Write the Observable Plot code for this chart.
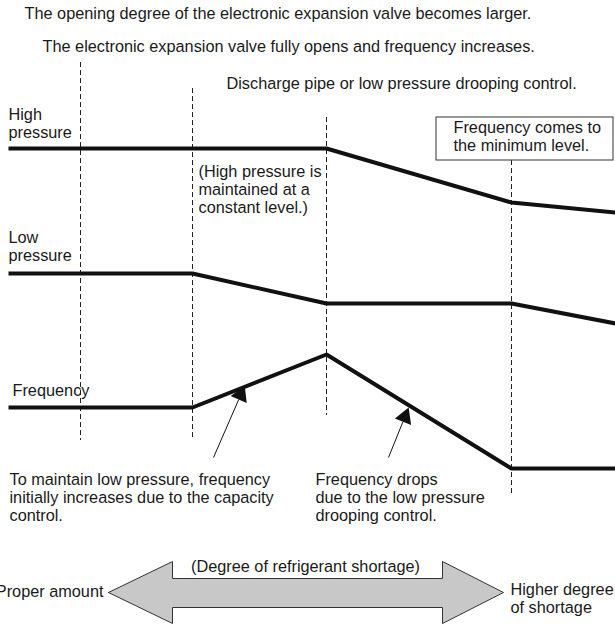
<!DOCTYPE html>
<html><head><meta charset="utf-8">
<script src="https://cdn.jsdelivr.net/npm/d3@7"></script>
<script src="https://cdn.jsdelivr.net/npm/@observablehq/plot@0.6"></script>
<style>body{margin:0;background:#fff;}</style>
</head><body><div id="chart"></div>
<script>
// ---- schematic data (x = progression of refrigerant shortage, y = level, measured downward) ----
const guideX      = [80, 192, 326, 511];
const guideTop    = [62, 88, 117, 160];
const guideBottom = [440, 438, 415, 496];

const highX = [8, 326, 511, 615];
const highY = [148, 148, 202, 212];
const lowX  = [8, 192, 326, 511, 615];
const lowY  = [273, 273, 303, 303, 323];
const freqX = [8, 192, 326, 511, 615];
const freqY = [407, 407, 354, 468, 468];

const labelText = [
  "The opening degree of the electronic expansion valve becomes larger.",
  "The electronic expansion valve fully opens and frequency increases.",
  "Discharge pipe or low pressure drooping control.",
  "High\npressure",
  "(High pressure is\nmaintained at a\nconstant level.)",
  "Low\npressure",
  "Frequency",
  "Frequency comes to\nthe minimum level.",
  "To maintain low pressure, frequency\ninitially increases due to the capacity\ncontrol.",
  "Frequency drops\ndue to the low pressure\ndrooping control.",
  "(Degree of refrigerant shortage)",
  "Proper amount",
  "Higher degree\nof shortage"
];
const labelX = [24, 42, 226, 8, 198, 8, 12, 453, 9, 315, 305, 103, 510];
const labelY = [14, 47, 84, 115, 172, 238, 391, 128, 480, 480, 567, 592, 590];
const labelAnchor = ["start","start","start","start","start","start","start","start","start","start","middle","end","start"];

const boxX1 = [436], boxX2 = [613], boxY1 = [117], boxY2 = [160];

// pointer arrows: tail -> tip
const ptrX1 = [213, 388], ptrY1 = [457, 457];
const ptrX2 = [243, 407], ptrY2 = [388, 410];

// big double arrow outline
const bigX = [108, 172, 172, 442, 442, 503, 442, 442, 172, 172, 108];
const bigY = [592, 561, 578, 578, 561, 592, 623, 607, 607, 623, 592];

// ---- build tables ----
const W = 615, H = 624, FS = 16.3, LH = 1.1;
const series = (xs, ys) => xs.map((x, i) => ({x, y: ys[i]}));
const guides = guideX.map((x, i) => ({x, y1: guideTop[i], y2: guideBottom[i]}));
const labels = labelText.map((t, i) => ({t, x: labelX[i], y: labelY[i] - 0.5 * FS, a: labelAnchor[i]}));
const ptrs = ptrX1.map((x1, i) => {
  const dx = ptrX2[i] - x1, dy = ptrY2[i] - ptrY1[i];
  const len = Math.hypot(dx, dy);
  const ang = Math.atan2(dx, -dy) * 180 / Math.PI;
  return {x1, y1: ptrY1[i], x2: ptrX2[i], y2: ptrY2[i],
          hx: ptrX2[i] - dx / len * 7, hy: ptrY2[i] - dy / len * 7,
          lx: ptrX2[i] - dx / len * 12, ly: ptrY2[i] - dy / len * 12, ang};
});
const boxes = boxX1.map((x1, i) => ({x1, x2: boxX2[i], y1: boxY1[i], y2: boxY2[i]}));
const big = series(bigX, bigY);

const lineOpts = {x: "x", y: "y", stroke: "#111", strokeWidth: 4, strokeLinejoin: "miter", strokeLinecap: "butt"};
const textOpts = (anchor) => ({filter: d => d.a === anchor, x: "x", y: "y", text: "t",
  textAnchor: anchor, lineAnchor: "top", lineHeight: LH, fill: "#1a1a1a", fontSize: FS});

const chart = Plot.plot({
  width: W, height: H, margin: 0,
  style: {fontFamily: "'Liberation Sans', Arial, sans-serif", fontSize: FS + "px", background: "#fff"},
  x: {domain: [0, W], axis: null},
  y: {domain: [0, H], reverse: true, axis: null},
  marks: [
    Plot.ruleX(guides, {x: "x", y1: "y1", y2: "y2", stroke: "#222", strokeWidth: 1, strokeDasharray: "5,3"}),
    Plot.rect(boxes, {x1: "x1", x2: "x2", y1: "y1", y2: "y2", fill: "#fff", stroke: "#333", strokeWidth: 1}),
    Plot.line(series(highX, highY), lineOpts),
    Plot.line(series(lowX, lowY), lineOpts),
    Plot.line(series(freqX, freqY), lineOpts),
    Plot.link(ptrs, {x1: "x1", y1: "y1", x2: "lx", y2: "ly", stroke: "#111", strokeWidth: 1}),
    Plot.dot(ptrs, {x: "hx", y: "hy", symbol: "triangle", r: 6.5, rotate: "ang", fill: "#111", stroke: "none"}),
    Plot.line(big, {x: "x", y: "y", fill: "#c8c8c8", stroke: "#333", strokeWidth: 1, strokeLinejoin: "miter"}),
    Plot.text(labels, textOpts("start")),
    Plot.text(labels, textOpts("middle")),
    Plot.text(labels, textOpts("end"))
  ]
});
document.getElementById("chart").append(chart);
</script>
</body></html>
